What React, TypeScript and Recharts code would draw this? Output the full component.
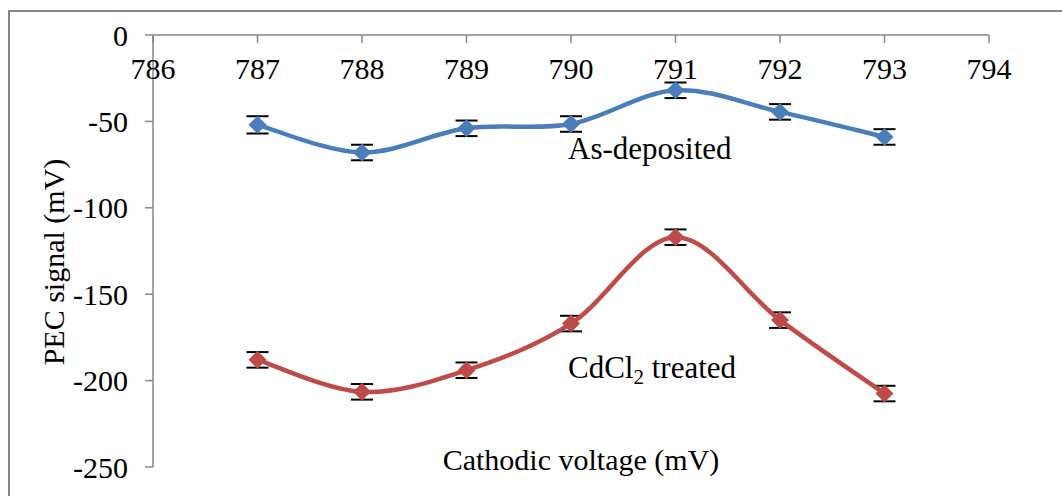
import { LineChart, Line, XAxis, YAxis, ErrorBar } from 'recharts';

const voltages = [787, 788, 789, 790, 791, 792, 793];
const asDeposited = [-52, -68, -54, -51.5, -32, -44.5, -59];
const cdcl2Treated = [-188, -206.5, -194, -167, -117, -165, -207.5];
const asDepositedErr = [5, 4.5, 4.5, 4.5, 4.5, 4.5, 4.5];
const cdcl2Err = [4.5, 4.5, 4.5, 4.5, 4.5, 4.5, 4.5];

const xTicks = [786, 787, 788, 789, 790, 791, 792, 793, 794];
const yTicks = [0, -50, -100, -150, -200, -250];

const data = voltages.map((v, i) => ({
  v,
  asDep: asDeposited[i],
  asDepErr: asDepositedErr[i],
  cdcl: cdcl2Treated[i],
  cdclErr: cdcl2Err[i],
}));

const FONT = '"Liberation Serif", "Times New Roman", serif';
const AXIS = '#868686';

// excel-like smoothed line (catmull-rom style bezier)
function smoothCurve(context: any) {
  let pts: number[][] = [];
  return {
    areaStart() {},
    areaEnd() {},
    lineStart() {
      pts = [];
    },
    point(x: number, y: number) {
      pts.push([+x, +y]);
    },
    lineEnd() {
      if (!pts.length) return;
      context.moveTo(pts[0][0], pts[0][1]);
      const t = 1 / 6;
      for (let i = 0; i < pts.length - 1; i++) {
        const p0 = pts[i - 1] || pts[i];
        const p1 = pts[i];
        const p2 = pts[i + 1];
        const p3 = pts[i + 2] || p2;
        context.bezierCurveTo(
          p1[0] + (p2[0] - p0[0]) * t,
          p1[1] + (p2[1] - p0[1]) * t,
          p2[0] - (p3[0] - p1[0]) * t,
          p2[1] - (p3[1] - p1[1]) * t,
          p2[0],
          p2[1]
        );
      }
    },
  };
}

const diamond = (color: string) => (props: any) => {
  const { cx, cy, index } = props;
  const r = 9;
  return (
    <polygon
      key={`d-${index}`}
      points={`${cx},${cy - r} ${cx + r},${cy} ${cx},${cy + r} ${cx - r},${cy}`}
      fill={color}
    />
  );
};

const tickStyle = { fontSize: 30, fontFamily: FONT, fill: '#000' };

export default function App() {
  return (
    <div style={{ position: 'absolute', left: 0, top: 0, width: 1062, height: 496, overflow: 'hidden', background: '#fff' }}>
      <LineChart width={1062} height={496} data={data} margin={{ top: 35, right: 73, bottom: 29, left: 53 }}>
        <XAxis
          dataKey="v"
          type="number"
          domain={[786, 794]}
          ticks={xTicks}
          orientation="top"
          mirror
          tickSize={8}
          tickMargin={15}
          stroke={AXIS}
          strokeWidth={1.5}
          tick={tickStyle}
          interval={0}
        />
        <YAxis
          type="number"
          domain={[-250, 0]}
          ticks={yTicks}
          width={100}
          tickSize={8}
          tickMargin={17}
          stroke={AXIS}
          strokeWidth={1.5}
          tick={tickStyle}
          interval={0}
        />
        <Line
          dataKey="asDep"
          type={smoothCurve as any}
          stroke="#4A7EBB"
          strokeWidth={4.5}
          dot={diamond('#4A7EBB')}
          activeDot={false}
          isAnimationActive={false}
        >
          <ErrorBar dataKey="asDepErr" width={11} stroke="#000" strokeWidth={2} direction="y" />
        </Line>
        <Line
          dataKey="cdcl"
          type={smoothCurve as any}
          stroke="#BE4B48"
          strokeWidth={4.5}
          dot={diamond('#BE4B48')}
          activeDot={false}
          isAnimationActive={false}
        >
          <ErrorBar dataKey="cdclErr" width={11} stroke="#000" strokeWidth={2} direction="y" />
        </Line>
      </LineChart>
      <svg width={1062} height={496} style={{ position: 'absolute', left: 0, top: 0, pointerEvents: 'none' }}>
        <rect x={9} y={11} width={1200} height={600} fill="none" stroke={AXIS} strokeWidth={2} />
        <g fontFamily={FONT} fill="#000">
          <text x={581} y={470} fontSize={30} textAnchor="middle">Cathodic voltage (mV)</text>
          <text transform="translate(64,262) rotate(-90)" fontSize={30} textAnchor="middle">PEC signal (mV)</text>
          <text x={568} y={159} fontSize={31}>As-deposited</text>
          <text x={568} y={378} fontSize={31}>
            CdCl<tspan fontSize={21} dy={6}>2</tspan>
            <tspan dy={-6}> treated</tspan>
          </text>
        </g>
      </svg>
    </div>
  );
}
